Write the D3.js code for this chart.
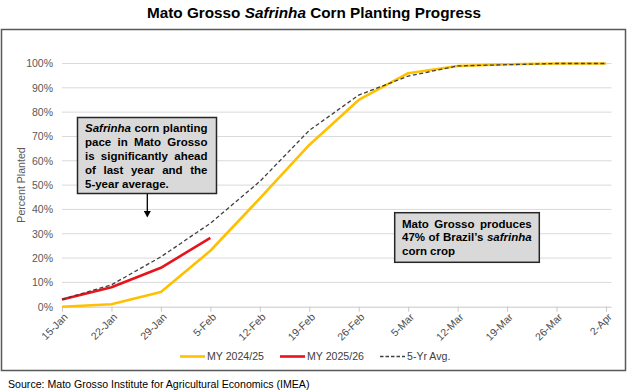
<!DOCTYPE html>
<html>
<head>
<meta charset="utf-8">
<script src="https://cdn.jsdelivr.net/npm/d3@7/dist/d3.min.js"></script>
<style>
  html, body { margin: 0; padding: 0; background: #fff; }
  svg { display: block; font-family: "Liberation Sans", Arial, sans-serif; }
</style>
</head>
<body>
<svg id="chart" width="628" height="392"></svg>
<script>
const categories = ["15-Jan","22-Jan","29-Jan","5-Feb","12-Feb","19-Feb","26-Feb","5-Mar","12-Mar","19-Mar","26-Mar","2-Apr"];
const my2425 = [0, 1, 6, 23, 44.5, 66.5, 85, 96, 99, 99.7, 100, 100];
const my2526 = [3, 8, 16, 28.3];
const avg5 = [3, 9, 20.5, 34.3, 51.5, 72.5, 87, 94.8, 99, 99.5, 100, 100];
const yTicks = [0, 10, 20, 30, 40, 50, 60, 70, 80, 90, 100];
const seriesNames = ["MY 2024/25", "MY 2025/26", "5-Yr Avg."];

const svg = d3.select("#chart");

// outer border
svg.append("rect").attr("x", 1.5).attr("y", 29.5).attr("width", 624).attr("height", 341)
  .attr("fill", "#fff").attr("stroke", "#595959").attr("stroke-width", 1.5);

// title
const title = svg.append("text").attr("x", 314).attr("y", 18).attr("text-anchor", "middle")
  .attr("font-size", 15.3).attr("font-weight", "bold").attr("fill", "#000");
title.append("tspan").text("Mato Grosso ");
title.append("tspan").attr("font-style", "italic").text("Safrinha");
title.append("tspan").text(" Corn Planting Progress");

const x = d3.scalePoint().domain(categories).range([62, 606]);
const y = d3.scaleLinear().domain([0, 100]).range([306.7, 63.5]);

// gridlines
svg.append("g").selectAll("line").data(yTicks.filter(d => d > 0)).join("line")
  .attr("x1", 62).attr("x2", 611.5)
  .attr("y1", d => y(d)).attr("y2", d => y(d))
  .attr("stroke", "#d9d9d9").attr("stroke-width", 1);

// y axis labels
const yAxis = d3.axisLeft(y).tickValues(yTicks).tickFormat(d => d + "%").tickSize(0).tickPadding(9);
const yg = svg.append("g").attr("transform", "translate(62,0)").call(yAxis);
yg.select(".domain").remove();
yg.selectAll("text").attr("font-size", 10.5).attr("fill", "#595959")
  .attr("font-family", "Liberation Sans, Arial, sans-serif");

// x axis
const xAxis = d3.axisBottom(x).tickSize(5).tickSizeOuter(0).tickPadding(0);
const xg = svg.append("g").attr("transform", "translate(0,306.7)").call(xAxis);
xg.select(".domain").attr("d", "M62,0.5H611.5").attr("stroke", "#c8c8c8");
xg.selectAll(".tick line").attr("stroke", "#c8c8c8");
xg.selectAll("text").attr("font-size", 10.5).attr("fill", "#4d4d4d")
  .attr("font-family", "Liberation Sans, Arial, sans-serif")
  .attr("text-anchor", "end").attr("dy", null).attr("y", 0)
  .attr("transform", "translate(6,11) rotate(-45)");

// y axis title
svg.append("text").attr("transform", "translate(25,185) rotate(-90)")
  .attr("text-anchor", "middle").attr("font-size", 10.6).attr("fill", "#595959")
  .text("Percent Planted");

// lines
const line = d3.line().x((d, i) => x(categories[i])).y(d => y(d));
svg.append("path").datum(my2425).attr("d", line).attr("fill", "none")
  .attr("stroke", "#FFC000").attr("stroke-width", 2.6).attr("stroke-linejoin", "round");
svg.append("path").datum(my2526).attr("d", line).attr("fill", "none")
  .attr("stroke", "#E8141C").attr("stroke-width", 2.6).attr("stroke-linejoin", "round");
svg.append("path").datum(avg5).attr("d", line).attr("fill", "none")
  .attr("stroke", "#404040").attr("stroke-width", 1.3).attr("stroke-dasharray", "4,2.5");

// legend
const legendItems = [
  { name: seriesNames[0], color: "#FFC000", dash: null, w: 2.6, x0: 180 },
  { name: seriesNames[1], color: "#E8141C", dash: null, w: 2.6, x0: 280 },
  { name: seriesNames[2], color: "#404040", dash: "3.5,2", w: 1.3, x0: 380 }
];
const lg = svg.append("g");
legendItems.forEach(it => {
  lg.append("line").attr("x1", it.x0).attr("x2", it.x0 + 25).attr("y1", 356.5).attr("y2", 356.5)
    .attr("stroke", it.color).attr("stroke-width", it.w).attr("stroke-dasharray", it.dash);
  lg.append("text").attr("x", it.x0 + 27).attr("y", 360.3).attr("font-size", 10.6)
    .attr("fill", "#404040").text(it.name);
});

// source
svg.append("text").attr("x", 8).attr("y", 388).attr("font-size", 10.6).attr("fill", "#000")
  .text("Source: Mato Grosso Institute for Agricultural Economics (IMEA)");

// justified text helper
function justifiedBox(g, lines, left, width, baseline0, lh, size) {
  lines.forEach((ln, li) => {
    const words = ln.words;
    const widths = words.map(w => {
      const t = g.append("text").attr("font-size", size).attr("font-weight", "bold")
        .attr("font-style", w.it ? "italic" : null).text(w.t);
      const ww = t.node().getComputedTextLength();
      t.remove();
      return ww;
    });
    const sum = d3.sum(widths);
    const sp = size * 0.278;
    const gap = ln.last ? sp : (words.length > 1 ? (width - sum) / (words.length - 1) : 0);
    let cx = left;
    words.forEach((w, i) => {
      g.append("text").attr("x", cx).attr("y", baseline0 + li * lh)
        .attr("font-size", size).attr("font-weight", "bold")
        .attr("font-style", w.it ? "italic" : null).attr("fill", "#000").text(w.t);
      cx += widths[i] + gap;
    });
  });
}
function W(s, it) { return s.split(" ").map(t => ({ t, it: !!it })); }

// annotation 1
const a1 = svg.append("g");
a1.append("rect").attr("x", 77.5).attr("y", 117.5).attr("width", 139).attr("height", 76)
  .attr("fill", "#d9d9d9").attr("stroke", "#262626").attr("stroke-width", 1.5);
justifiedBox(a1, [
  { words: [{ t: "Safrinha", it: true }, ...W("corn planting")] },
  { words: W("pace in Mato Grosso") },
  { words: W("is significantly ahead") },
  { words: W("of last year and the") },
  { words: W("5-year average."), last: true }
], 85, 122.5, 131.8, 14, 11.5);
a1.append("line").attr("x1", 147.3).attr("x2", 147.3).attr("y1", 194).attr("y2", 212)
  .attr("stroke", "#000").attr("stroke-width", 1.3);
a1.append("path").attr("d", "M143.8,211 L150.8,211 L147.3,217.5 Z").attr("fill", "#000");

// annotation 2
const a2 = svg.append("g");
a2.append("rect").attr("x", 394.7).attr("y", 212.7).attr("width", 144.6).attr("height", 49.6)
  .attr("fill", "#d9d9d9").attr("stroke", "#262626").attr("stroke-width", 1.5);
justifiedBox(a2, [
  { words: W("Mato Grosso produces") },
  { words: [...W("47% of Brazil\u2019s"), { t: "safrinha", it: true }] },
  { words: W("corn crop"), last: true }
], 402, 129.7, 227.5, 13.5, 11.5);
</script>
</body>
</html>
